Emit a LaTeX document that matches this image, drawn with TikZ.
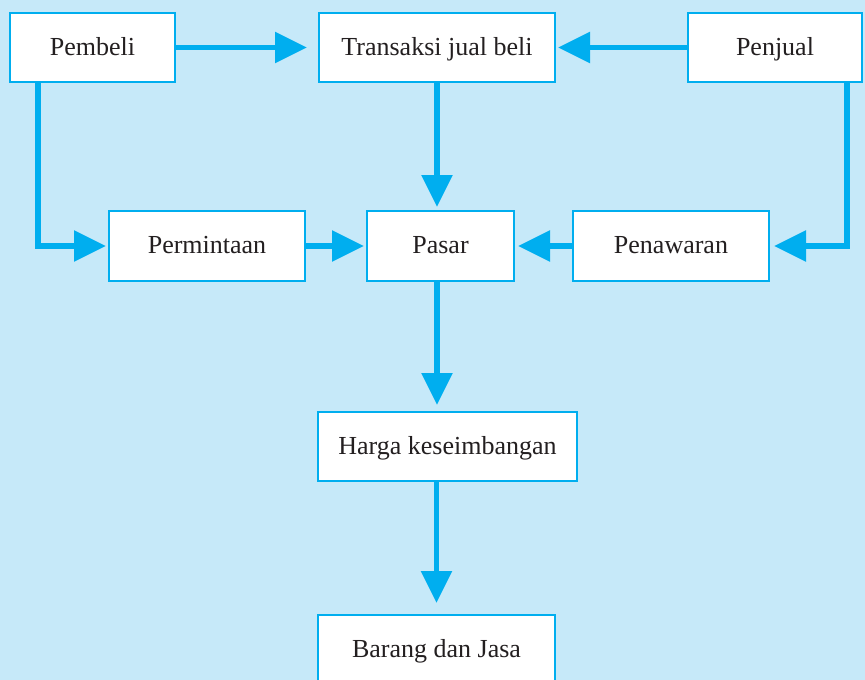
\documentclass[tikz,border=0pt]{standalone}
\usepackage{fontspec}
\setmainfont{Liberation Serif}
\usetikzlibrary{arrows.meta}
\definecolor{bgblue}{HTML}{C6E9F9}
\definecolor{cyanline}{HTML}{00AEEF}
\definecolor{txt}{HTML}{231F20}
\begin{document}
\begin{tikzpicture}[x=1pt,y=-1pt,
  box/.style={draw=cyanline, line width=2pt, fill=white, inner sep=0pt, text=txt,
    text height=19pt, text depth=4pt,
    font=\fontsize{26}{30}\selectfont},
  arr/.style={draw=cyanline, line width=5.5pt, -{Triangle[length=32pt,width=30pt]}}]
\fill[bgblue] (0,0) rectangle (865,680);
\useasboundingbox (0,0) rectangle (865,680);

\node[box, minimum width=165pt, minimum height=69pt] (pembeli) at (92.5,47.5) {Pembeli};
\node[box, minimum width=236pt, minimum height=69pt] (trans) at (437,47.5) {Transaksi jual beli};
\node[box, minimum width=174pt, minimum height=69pt] (penjual) at (775,47.5) {Penjual};
\node[box, minimum width=196pt, minimum height=70pt] (perm) at (207,246) {Permintaan};
\node[box, minimum width=147pt, minimum height=70pt] (pasar) at (440.5,246) {Pasar};
\node[box, minimum width=196pt, minimum height=70pt] (penaw) at (671,246) {Penawaran};
\node[box, minimum width=259pt, minimum height=69pt] (harga) at (447.5,446.5) {Harga keseimbangan};
\node[box, minimum width=237pt, minimum height=69pt] (barang) at (436.5,649.5) {Barang dan Jasa};

\draw[arr, shorten >=11pt] (pembeli.east) -- (trans.west);
\draw[arr, shorten >=2pt] (penjual.west) -- (trans.east);
\draw[arr, shorten >=3pt] (trans.south) -- (trans.south |- pasar.north);
\draw[arr, shorten >=2pt] ([xshift=-54.5pt]pembeli.south) |- (perm.west);
\draw[arr, shorten >=2pt] (perm.east) -- (pasar.west);
\draw[arr, shorten >=3pt] (penaw.west) -- (pasar.east);
\draw[arr, shorten >=4pt] ([xshift=72pt]penjual.south) |- (penaw.east);
\draw[arr, shorten >=6pt] (trans.south |- pasar.south) -- (trans.south |- harga.north);
\draw[arr, shorten >=11pt] (barang.north |- harga.south) -- (barang.north);
\end{tikzpicture}
\end{document}
